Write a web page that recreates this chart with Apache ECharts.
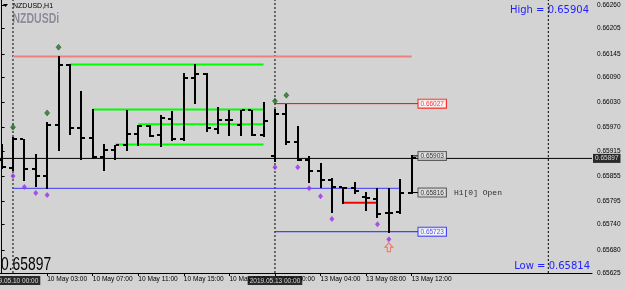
<!DOCTYPE html>
<html>
<head>
<meta charset="utf-8">
<script src="https://cdn.jsdelivr.net/npm/echarts@6/dist/echarts.min.js"></script>
<style>
  html, body { margin: 0; padding: 0; background: #d3d3d3; }
  #main { width: 625px; height: 289px; }
</style>
</head>
<body>
<div id="main"></div>
<script>
// NZDUSD H1, bar 0 = 2019.05.09 23:00, bar 1 = 2019.05.10 00:00, bar 24 = 2019.05.13 00:00
const opens  = [0.65893,0.65875,0.65942,0.65873,0.65856,0.65976,0.66119,0.65968,0.65946,0.65900,
                0.65917,0.65929,0.65955,0.65974,0.65952,0.65990,0.65944,0.66089,0.66097,0.65967,
                0.65988,0.65976,0.66011,0.65952,0.65902,0.66002,0.65935,0.65894,0.65866,0.65845,
                0.65829,0.65826,0.65806,0.65800,0.65767,0.65769,0.65816];
const highs  = [0.65931,0.65948,0.65943,0.65907,0.65983,0.66139,0.66121,0.66057,0.66014,0.65931,
                0.65929,0.66012,0.65976,0.65976,0.66000,0.66009,0.66100,0.66121,0.66100,0.66018,
                0.66013,0.66012,0.66012,0.66032,0.66014,0.66027,0.65974,0.65902,0.65887,0.65850,
                0.65829,0.65842,0.65818,0.65826,0.65826,0.65848,0.65904];
const lows   = [0.65874,0.65869,0.65845,0.65832,0.65826,0.65917,0.65955,0.65895,0.65899,0.65869,
                0.65895,0.65918,0.65930,0.65950,0.65926,0.65941,0.65941,0.66028,0.65961,0.65958,
                0.65952,0.65952,0.65952,0.65950,0.65891,0.65931,0.65893,0.65842,0.65829,0.65769,
                0.65792,0.65815,0.65774,0.65759,0.65723,0.65768,0.65814];
const closes = [0.65876,0.65942,0.65873,0.65856,0.65976,0.66119,0.65968,0.65946,0.65900,0.65917,
                0.65929,0.65955,0.65974,0.65950,0.65993,0.65944,0.66089,0.66097,0.65968,0.65989,
                0.65988,0.66011,0.65953,0.65986,0.66003,0.65935,0.65894,0.65866,0.65845,0.65829,
                0.65826,0.65819,0.65803,0.65765,0.65767,0.65816,0.65897];

const bidPrice = 0.65897;
const symbolName = 'NZDUSD', timeframe = 'H1', brokerSymbol = 'NZDUSDi';

// axis ticks
const yTicks = [0.66260,0.66205,0.66145,0.66090,0.66030,0.65970,0.65915,0.65855,0.65795,0.65740,0.65680,0.65625];
const xTickBars = [4, 8, 12, 16, 20, 24, 28, 32, 36];
const xTickLabels = ['10 May 03:00','10 May 07:00','10 May 11:00','10 May 15:00','10 May 19:00',
                     '13 May 00:00','13 May 04:00','13 May 08:00','13 May 12:00'];
const sepBars = [1, 24, 48];
const sepLabels = ['2019.05.10 00:00', '2019.05.13 00:00'];

// levels
const prevHigh = 0.66139, prevLow = 0.65826;
const greenLevels = [0.66120, 0.66013, 0.65978, 0.65930];
const greenFrom = [6, 8, 12, 10];
const greenTo = 23;
const dayHigh = 0.66027, dayLow = 0.65723;
const redSeg = [30, 33, 0.65792];
const tagPrices = [0.66027, 0.65903, 0.65816, 0.65723];

// signal marks
const upBars = [1, 4, 5, 24, 25];
const upPrices = [0.65971, 0.66005, 0.66161, 0.66033, 0.66047];
const dnBars = [1, 2, 3, 4, 24, 26, 27, 28, 29, 33, 34];
const dnPrices = [0.65855, 0.65829, 0.65815, 0.65810, 0.65876, 0.65876, 0.65826, 0.65807, 0.65753, 0.65741, 0.65705];
const arrowBar = 34, arrowPrice = 0.65686;

const xMin = -0.14, xMax = 51.835, yMin = 0.65625, yMax = 0.66273;
const tagX = 36.6;
const last = opens.length - 1;
const FONT = 'Liberation Sans';

const bars = opens.map((o, i) => [i, o, highs[i], lows[i], closes[i]]);

function renderBar(params, api) {
  const i = api.value(0);
  const x = Math.round(api.coord([i, api.value(1)])[0]);
  const yO = Math.round(api.coord([i, api.value(1)])[1]);
  const yH = Math.round(api.coord([i, api.value(2)])[1]);
  const yL = Math.round(api.coord([i, api.value(3)])[1]);
  const yC = Math.round(api.coord([i, api.value(4)])[1]);
  const st = { fill: '#000' };
  return {
    type: 'group',
    children: [
      { type: 'rect', shape: { x: x - 1, y: yH, width: 2, height: Math.max(yL - yH, 1) + 1 }, style: st },
      { type: 'rect', shape: { x: x - 4, y: yO - 1, width: 3, height: 2 }, style: st },
      { type: 'rect', shape: { x: x + 1, y: yC - 1, width: 3, height: 2 }, style: st }
    ]
  };
}

function hline(from, to, price, color, width) {
  return {
    type: 'line', data: [[from, price], [to, price]], symbol: 'none', silent: true, z: 1,
    lineStyle: { color: color, width: width }
  };
}

const series = [];
// period separators
sepBars.forEach(b => {
  series.push({
    type: 'line', data: [[b, yMin], [b, yMax]], symbol: 'none', silent: true, z: 1,
    lineStyle: { color: '#000', width: 1, type: [2, 2] }
  });
});
series.push(hline(1, 36, prevHigh, '#f08080', 2));
series.push(hline(1, 35, prevLow, '#3c3cff', 1));
greenLevels.forEach((p, k) => series.push(hline(greenFrom[k], greenTo, p, '#00ff00', 2)));
series.push(hline(24, tagX, dayHigh, '#ff0000', 1));
series.push(hline(24, tagX, dayLow, '#2020ff', 1));
series.push(hline(redSeg[0], redSeg[1], redSeg[2], '#ff0000', 2));
series.push(hline(xMin, xMax, bidPrice, '#000', 1));
series.push(hline(last, tagX, tagPrices[1], '#000', 1));
series.push(hline(last, tagX, tagPrices[2], '#000', 1));

// OHLC bars
series.push({
  type: 'custom', renderItem: renderBar, data: bars, z: 3, silent: true,
  encode: { x: 0, y: [1, 2, 3, 4] }
});

// marks
series.push({
  type: 'scatter', symbol: 'diamond', symbolSize: [5, 6], silent: true, z: 4,
  itemStyle: { color: '#1c7a1c', borderColor: '#0d3d0d', borderWidth: 0.5 },
  data: upBars.map((b, k) => [b, upPrices[k]])
});
series.push({
  type: 'scatter', symbol: 'diamond', symbolSize: [5, 6], silent: true, z: 4,
  itemStyle: { color: '#9b30f0' },
  data: dnBars.map((b, k) => [b, dnPrices[k]])
});
series.push({
  type: 'scatter', symbol: 'path://M5,0 L10,5 L7,5 L7,10 L3,10 L3,5 L0,5 Z', symbolSize: [8, 9],
  silent: true, z: 4,
  itemStyle: { color: 'rgba(0,0,0,0)', borderColor: '#ff5a3c', borderWidth: 1 },
  data: [[arrowBar, arrowPrice]]
});

// price tags
const tagStyles = [
  { backgroundColor: '#ffffff', borderColor: '#ff0000', color: '#ff0000' },
  { backgroundColor: '#e4e4e4', borderColor: '#404040', color: '#000000' },
  { backgroundColor: '#e4e4e4', borderColor: '#404040', color: '#000000' },
  { backgroundColor: '#ffffff', borderColor: '#2020ff', color: '#2020ff' }
];
series.push({
  type: 'scatter', symbolSize: 0, silent: true, z: 5, clip: false,
  data: tagPrices.map((p, k) => {
    const s = tagStyles[k];
    const box = {
      backgroundColor: s.backgroundColor, borderColor: s.borderColor, borderWidth: 1,
      color: s.color, padding: [1, 2, 0, 2], lineHeight: 8, fontSize: 6.5, fontFamily: FONT
    };
    return {
      value: [tagX, p],
      label: {
        show: true, position: 'right', distance: 0,
        formatter: k === 2 ? '{b|' + p.toFixed(5) + '}{t|H1[0] Open}' : '{b|' + p.toFixed(5) + '}',
        rich: { b: box, t: { fontFamily: 'Liberation Mono', fontSize: 8, color: '#000', padding: [0, 0, 0, 8] } }
      }
    };
  })
});
// bid on price axis
series.push({
  type: 'scatter', symbolSize: 0, silent: true, z: 5, clip: false,
  data: [[xMax, bidPrice]],
  label: {
    show: true, position: 'right', distance: 1, formatter: bidPrice.toFixed(5),
    backgroundColor: '#000', color: '#fff', padding: [1, 2, 0, 2], lineHeight: 8,
    fontSize: 6.5, fontFamily: FONT
  }
});
// separator time boxes
series.push({
  type: 'scatter', symbolSize: 0, silent: true, z: 5, clip: false,
  data: sepLabels.map((t, k) => ({ value: [sepBars[k], yMin], name: t })),
  label: {
    show: true, position: 'bottom', distance: 3, formatter: '{b}',
    backgroundColor: '#000', color: '#fff', padding: [1, 2, 0, 2], lineHeight: 8,
    fontSize: 6.5, fontFamily: FONT
  }
});

const chart = echarts.init(document.getElementById('main'));
chart.setOption({
  animation: false,
  backgroundColor: '#d3d3d3',
  grid: { left: 0, top: 0, width: 592, height: 273 },
  xAxis: {
    type: 'value', min: xMin, max: xMax,
    splitLine: { show: false },
    axisLine: { show: true, onZero: false, lineStyle: { color: '#000', width: 1 } },
    axisTick: { show: true, customValues: xTickBars, length: 3, lineStyle: { color: '#000' } },
    axisLabel: {
      customValues: xTickBars, margin: 3, align: 'left', color: '#000',
      fontSize: 6.6, fontFamily: FONT,
      formatter: v => xTickLabels[xTickBars.indexOf(v)] || ''
    }
  },
  yAxis: {
    type: 'value', position: 'right', min: yMin, max: yMax, scale: true,
    splitLine: { show: false },
    axisLine: { show: true, lineStyle: { color: '#000', width: 1 } },
    axisTick: { show: true, customValues: yTicks, length: 3, lineStyle: { color: '#000' } },
    axisLabel: {
      customValues: yTicks, margin: 5, color: '#000', fontSize: 6.5, fontFamily: FONT,
      formatter: v => v.toFixed(5)
    }
  },
  graphic: {
    elements: [
      { type: 'polygon', shape: { points: [[3, 4], [8, 4], [5.5, 7]] }, style: { fill: '#000' } },
      { type: 'text', x: 13, y: 6,
        style: { text: symbolName + ',' + timeframe, fontSize: 7, fontFamily: FONT, fill: '#000', verticalAlign: 'middle' } },
      { type: 'text', x: 12.5, y: 18.5, scaleX: 0.7,
        style: { text: brokerSymbol, fontSize: 15, fontWeight: 'bold', fontFamily: FONT, fill: '#8a8a98',
                 stroke: '#e2e2ea', lineWidth: 0.6, verticalAlign: 'middle' } },
      { type: 'text', x: 589, y: 10,
        style: { text: 'High = ' + highs[last].toFixed(5), fontSize: 10, fontFamily: 'DejaVu Sans', fill: '#2323ff', align: 'right', verticalAlign: 'middle' } },
      { type: 'text', x: 590, y: 266.5,
        style: { text: 'Low = ' + lows[last].toFixed(5), fontSize: 10, fontFamily: 'DejaVu Sans', fill: '#2323ff', align: 'right', verticalAlign: 'middle' } },
      { type: 'text', x: 1, y: 265.5, scaleX: 0.77,
        style: { text: bidPrice.toFixed(5), fontSize: 18, fontFamily: FONT, fill: '#000', verticalAlign: 'middle' } }
    ]
  },
  series: series
});
</script>
</body>
</html>
